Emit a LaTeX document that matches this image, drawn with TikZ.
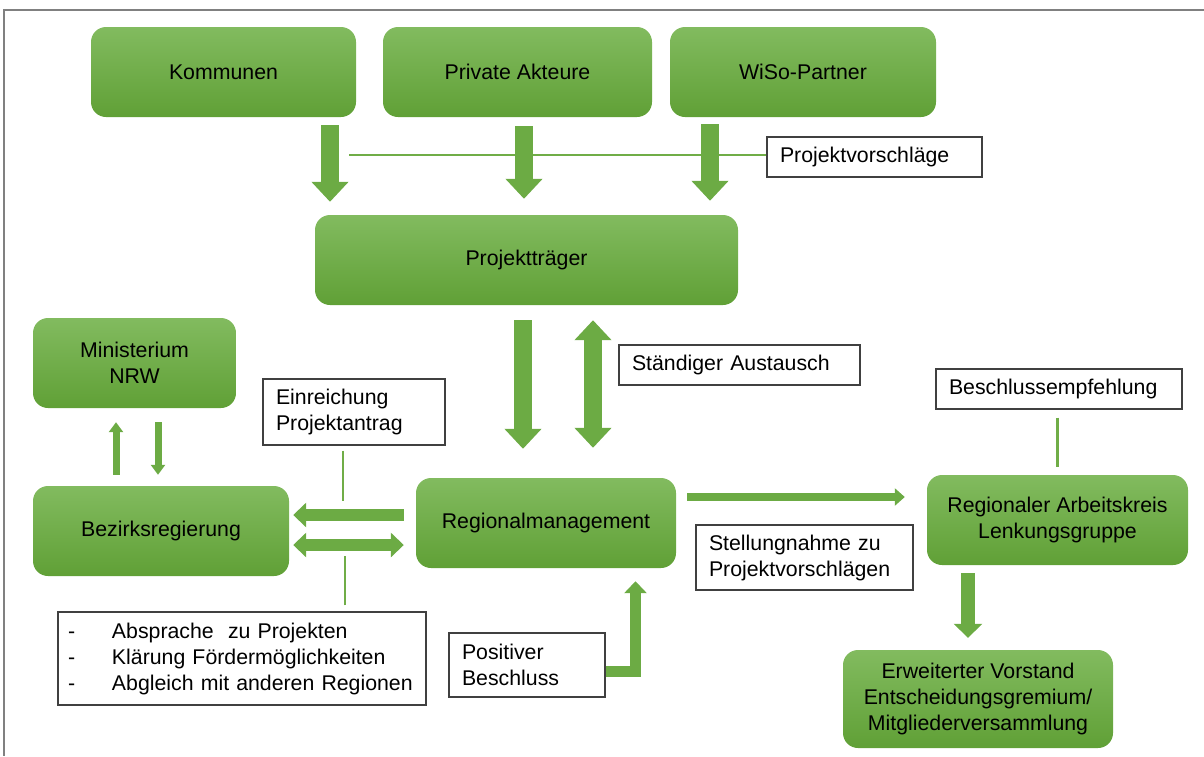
\documentclass[tikz,border=0pt]{standalone}
\usepackage{fontspec}
\setmainfont{Liberation Sans}
\usetikzlibrary{arrows.meta}

\definecolor{boxtop}{RGB}{130,187,95}
\definecolor{boxbottom}{RGB}{96,160,54}
\definecolor{arrowgreen}{RGB}{108,171,68}
\definecolor{linkgreen}{RGB}{112,173,71}

\tikzset{
  stage/.style = {rounded corners = 15pt, top color = boxtop, bottom color = boxbottom,
                  align = center, inner sep = 0pt},
  note/.style = {draw = black!75, line width = 1.3pt, fill = white, align = left,
                 inner xsep = 13pt, inner ysep = 0pt},
  link/.style = {draw = linkgreen, line width = 2.6pt},
  bigarrow/.style = {draw = arrowgreen, line width = 18pt, -{Triangle[width = 36pt, length = 20pt]}},
  bigboth/.style = {draw = arrowgreen, line width = 18pt,
                    {Triangle[width = 36pt, length = 20pt]}-{Triangle[width = 36pt, length = 20pt]}},
  midarrow/.style = {draw = arrowgreen, line width = 12pt, -{Triangle[width = 24pt, length = 13pt]}},
  midboth/.style = {draw = arrowgreen, line width = 12pt,
                    {Triangle[width = 24pt, length = 13pt]}-{Triangle[width = 24pt, length = 13pt]}},
  smallarrow/.style = {draw = arrowgreen, line width = 7pt, -{Triangle[width = 14pt, length = 10pt]}},
}

\begin{document}
\begin{tikzpicture}[x = 1pt, y = -1pt, font = \fontsize{21.3}{26}\selectfont]
  \useasboundingbox (0,0) rectangle (1204,756);
  \draw[gray, line width = 2pt] (1204,10) -- (4,10) -- (4,756);

  % green stages
  \node[stage, minimum width = 265pt, minimum height = 90pt] at ( 223.5,  72) (kom)  {Kommunen};
  \node[stage, minimum width = 269pt, minimum height = 90pt] at ( 517.5,  72) (priv) {Private Akteure};
  \node[stage, minimum width = 266pt, minimum height = 90pt] at ( 803  ,  72) (wiso) {WiSo-Partner};
  \node[stage, minimum width = 423pt, minimum height = 90pt] at ( 526.5, 260) (ptr)  {Projektträger};
  \node[stage, minimum width = 203pt, minimum height = 90pt] at ( 134.5, 363) (min)  {Ministerium\\NRW};
  \node[stage, minimum width = 256pt, minimum height = 90pt] at ( 161  , 531) (bez)  {Bezirksregierung};
  \node[stage, minimum width = 260pt, minimum height = 90pt] at ( 546  , 523) (rm)   {Regionalmanagement};
  \node[stage, minimum width = 261pt, minimum height = 90pt] at (1057.5, 520) (rak)  {Regionaler Arbeitskreis\\Lenkungsgruppe};
  \node[stage, minimum width = 270pt, minimum height = 98pt] at ( 978  , 699) (ev)   {Erweiterter Vorstand\\Entscheidungsgremium/\\Mitgliederversammlung};

  % white notes
  \node[note, text width = 189pt, minimum height = 40pt] at ( 874.5, 157  ) (pv) {Projektvorschläge};
  \node[note, text width = 215pt, minimum height = 40pt] at ( 739.5, 365  ) (sa) {Ständiger Austausch};
  \node[note, text width = 220pt, minimum height = 40pt] at (1059  , 389  ) (be) {Beschlussempfehlung};
  \node[note, text width = 156pt, minimum height = 66pt] at ( 354  , 412  ) (ep) {Einreichung\\Projektantrag};
  \node[note, text width = 191pt, minimum height = 65pt] at ( 804.5, 557.5) (st) {Stellungnahme zu\\Projektvorschlägen};
  \node[note, text width = 348pt, minimum height = 93pt, inner xsep = 10pt] at (242, 658.5) (ab)
    {\makebox[44pt][l]{-}Absprache~ zu Projekten\\
     \makebox[44pt][l]{-}Klärung Fördermöglichkeiten\\
     \makebox[44pt][l]{-}Abgleich mit anderen Regionen};
  \node[note, text width = 130pt, minimum height = 64pt] at ( 527  , 665  ) (pb) {Positiver\\Beschluss};

  \coordinate (pvend) at (349, 155);
  \coordinate (epend) at (343, 501);
  \coordinate (abend) at (345, 556);

  % thin links
  \draw[link] ([yshift = 2pt]pv.west) -- (pvend);
  \draw[link, shorten <= 5pt] ([xshift = -11pt]ep.south) -- (epend);
  \draw[link, shorten <= 6pt] ([xshift = 103pt]ab.north) -- (abend);
  \draw[link, shorten <= 8pt, shorten >= 8pt] ([xshift = -1.5pt]be.south) -- ([xshift = -1.5pt]be.south |- rak.north);

  % block arrows
  \draw[bigarrow, shorten <= 8pt, shorten >= 13pt] ([xshift = 106.5pt]kom.south) -- ([xshift = 106.5pt]kom.south |- ptr.north);
  \draw[bigarrow, shorten <= 9pt, shorten >= 16pt] ([xshift = 6.5pt]priv.south) -- ([xshift = 6.5pt]priv.south |- ptr.north);
  \draw[bigarrow, shorten <= 7pt, shorten >= 14pt] ([xshift = -93pt]wiso.south) -- ([xshift = -93pt]wiso.south |- ptr.north);

  \draw[bigarrow, shorten <= 15pt, shorten >= 29pt] ([xshift = -3.5pt]ptr.south) -- ([xshift = -3.5pt]ptr.south |- rm.north);
  \draw[bigboth,  shorten <= 15pt, shorten >= 30pt] ([xshift = 66.5pt]ptr.south) -- ([xshift = 66.5pt]ptr.south |- rm.north);

  \draw[smallarrow, shorten <= 11pt, shorten >= 14pt] ([xshift = -45pt]bez.north) -- ([xshift = -45pt]bez.north |- min.south);
  \draw[smallarrow, shorten <= 14pt, shorten >= 11pt] ([xshift = 23.5pt]min.south) -- ([xshift = 23.5pt]min.south |- bez.north);

  \draw[midarrow, shorten <= 12pt, shorten >= 4pt] ([yshift = 8pt]rm.west) -- ([yshift = 8pt]rm.west -| bez.east);
  \draw[midboth,  shorten <= 12pt, shorten >= 4pt] ([yshift = -22pt]rm.west) -- ([yshift = -22pt]rm.west -| bez.east);

  \draw[draw = arrowgreen, line width = 8pt, -{Triangle[width = 17pt, length = 10pt]}, shorten <= 11pt, shorten >= 22pt]
    ([yshift = 26pt]rm.east) -- ([yshift = 26pt]rm.east -| rak.west);
  \draw[draw = arrowgreen, line width = 14pt, -{Triangle[width = 28pt, length = 14pt]}, shorten <= 8pt, shorten >= 12pt]
    ([xshift = -89.5pt]rak.south) -- ([xshift = -89.5pt]rak.south |- ev.north);
  \draw[draw = arrowgreen, line width = 11pt, -{Triangle[width = 22pt, length = 12pt]}, shorten >= 13pt]
    ([yshift = -6.5pt]pb.east) -| ([xshift = 89.5pt]rm.south);
\end{tikzpicture}
\end{document}
